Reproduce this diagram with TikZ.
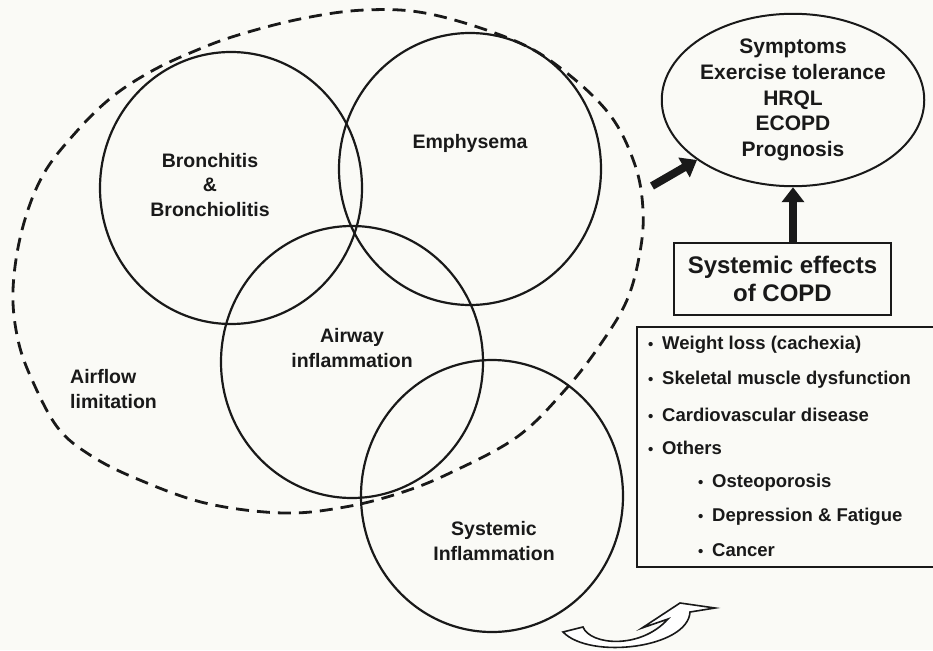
\documentclass[tikz,border=0pt]{standalone}
\usepackage{fontspec}
\setmainfont{Liberation Sans}
\usetikzlibrary{arrows.meta,shapes.geometric}
\definecolor{bg}{RGB}{250,250,246}
\definecolor{ink}{RGB}{25,25,25}
\begin{document}
\begin{tikzpicture}[x=1pt,y=-1pt,
  venn/.style={ellipse, draw=ink, line width=2.2pt, minimum width=262pt, minimum height=272pt, inner sep=0pt},
  lbl/.style={font=\bfseries\fontsize{19.5}{24.5}\selectfont, text=ink, align=center, inner sep=0pt},
  itemtxt/.style={font=\bfseries\fontsize{18.5}{22}\selectfont, text=ink, anchor=west, inner sep=0pt},
  bigarrow/.style={draw=ink, line width=8pt, -{Triangle[length=15pt, width=22pt]}},
  dashline/.style={draw=ink, line width=2.8pt, dash pattern=on 13pt off 8pt}]
\useasboundingbox (0,0) rectangle (933,650);
\fill[bg] (0,0) rectangle (933,650);

% airflow limitation region
\draw[dashline] plot[smooth cycle, tension=0.6] coordinates {
  (13,290) (22,230) (43,175) (77,131) (112,97) (150,72) (190,53) (235,36)
  (300,19) (365,10) (430,14) (513,40) (563,70) (610,115) (635,165) (643,210)
  (640,252) (627,300) (600,345) (565,390) (517,437) (450,473) (400,493)
  (345,507) (283,513) (205,503) (135,478) (90,455) (58,428) (33,382) (18,340)};

% venn circles
\node[venn] (bron) at (231,188) {};
\node[venn] (emph) at (470,169) {};
\node[venn] (airw) at (352,362) {};
\node[venn] (syst) at (492,496) {};

% labels
\node[lbl] (bronT) at (210,185) {Bronchitis\\\&\\Bronchiolitis};
\node[lbl] (emphT) at (470,143) {Emphysema};
\node[lbl] (airwT) at (352,348) {Airway\\inflammation};
\node[lbl] (systT) at (494,541) {Systemic\\Inflammation};
\node[lbl, align=left, anchor=west] (aflT) at (70,389) {Airflow\\limitation};

% outcomes
\node[ellipse, draw=ink, line width=2pt, minimum width=250pt, minimum height=168pt, inner sep=0pt,
      font=\bfseries\fontsize{21}{25.7}\selectfont, text=ink, align=center] (outcome) at (793,100)
      {Symptoms\\Exercise tolerance\\HRQL\\ECOPD\\Prognosis};

% systemic effects box
\node[draw=ink, line width=2.5pt, minimum width=217pt, minimum height=72pt, inner sep=0pt,
      font=\bfseries\fontsize{24}{28}\selectfont, text=ink, align=center] (effects) at (782.5,279)
      {Systemic effects\\of COPD};

% arrows
\coordinate (aflTail) at (652,186);
\draw[bigarrow] (aflTail) -- (outcome.212);
\draw[bigarrow] (effects.north -| outcome.south) -- (outcome.south);

% list box (cut at right edge)
\draw[ink, line width=2.2pt] (933,327) -- (637,327) -- (637,567) -- (933,567);
\newcommand{\blt}{\makebox[14pt][l]{\fontsize{15}{15}\selectfont •}}
\node[itemtxt] (i1) at (648,345) {\blt Weight loss (cachexia)};
\node[itemtxt] (i2) at (648,380) {\blt Skeletal muscle dysfunction};
\node[itemtxt] (i3) at (648,415) {\blt Cardiovascular disease};
\node[itemtxt] (i4) at (648,448) {\blt Others};
\node[itemtxt] (i5) at (698,483) {\blt Osteoporosis};
\node[itemtxt] (i6) at (698,517) {\blt Depression \& Fatigue};
\node[itemtxt] (i7) at (698,550) {\blt Cancer};

% hollow curved arrow
\draw[ink, line width=1.6pt, fill=white, line join=miter]
  (563,632) -- (583,627) .. controls (590,645) and (640,650) .. (668,619)
  -- (642,628) -- (680,603) -- (715,608) -- (690,612)
  .. controls (688,648) and (590,660) .. (563,632) -- cycle;
\end{tikzpicture}
\end{document}
